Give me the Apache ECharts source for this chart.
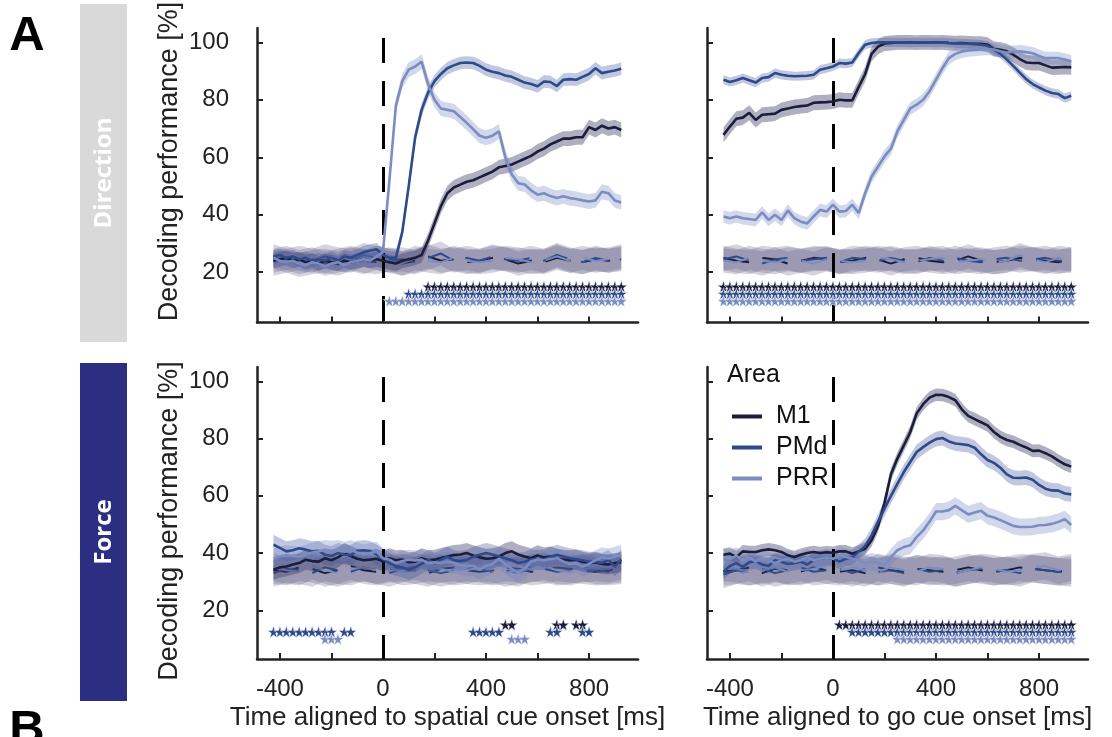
<!DOCTYPE html>
<html><head><meta charset="utf-8">
<script src="https://cdn.jsdelivr.net/npm/echarts@6/dist/echarts.min.js"></script>
<style>html,body{margin:0;padding:0;background:#fff}#c{width:1112px;height:737px}</style>
</head><body><div id="c"></div>
<script>
// ---------- DATA ----------
const t = [-425,-400,-375,-350,-325,-300,-275,-250,-225,-200,-175,-150,-125,-100,-75,-50,-25,0,25,50,75,100,125,150,175,200,225,250,275,300,325,350,375,400,425,450,475,500,525,550,575,600,625,650,675,700,725,750,775,800,825,850,875,900,925];
const tS = [-425,-375,-325,-275,-225,-175,-125,-75,-25,25,75,125,175,225,275,325,375,425,475,525,575,625,675,725,775,825,875,925];
const yTicks = [20,40,60,80,100];
const xTicks = [-400,-200,0,200,400,600,800];
const xLabels = [-400,0,400,800];
const areas = ['M1','PMd','PRR'];
const starRows = [15,12.5,10];

// Direction, aligned to spatial cue
const dirSpatial_M1 = [24,24.5,25,24,24.5,23.5,24,23,24,23.5,23,24,23.5,24,24.5,24,24.5,24,23.5,23,24,24.5,25,26,31,37,43,47.5,49.5,50.5,51.5,52,53,54,55,56.5,57,57.5,58.5,59.5,60.5,62,63,64.5,65.5,66.5,66.5,67,67,70.5,69.5,71,70,70.5,69.5];
const dirSpatial_PMd = [25.5,26,25,25.5,24.5,25,24,24.5,24,25,24,25.5,25,26,27,27.5,28,26,25,25,34,50,67,76.5,82.5,86.5,89,91,92,92.8,93,92.8,91.8,90.5,89.8,89.3,88.5,88,87,86,85.5,84.7,86.4,86.2,84.8,87,87.2,87,88,89,91,89.3,89.8,90.2,90.8];
const dirSpatial_PRR = [25,24,23.5,24,23,22.5,23.5,23,22,23,23.5,22.5,23.5,24,24.5,24,25.5,27,52,78,86.5,90.5,91.6,93.3,85.5,80,77,76.5,76,74,72,69.8,67.5,66.8,67.5,69,60,54,51,50.5,48.5,47,47.5,46.5,45.8,46.4,45.8,45.5,45,44.6,45,48,47.5,45,44.3];
// Direction, aligned to go cue
const dirGo_M1 = [67.8,70.7,73.4,73.8,75.5,73,74.8,75,75.2,76.5,77,77.5,77.8,78,79,79.1,79.2,79.4,80,79.8,79.8,84.5,89,96,98.5,99.6,99.8,100,100,100,99.9,100,100,99.9,100,99.8,99.7,99.8,99.6,99.5,99.5,99.2,97.7,97.4,96.9,95.7,94.2,93,92.8,92.8,92,91.2,91.3,91.4,91.3];
const dirGo_PMd = [87,86.2,86.8,87.6,86.8,86,87.6,87.9,89.3,88.7,88.4,88.2,88.3,88.4,88.7,90.5,91,91.6,92.8,92.6,93,96.3,99.2,99.8,100,100,100,100,100,99.9,100,100,100,99.9,100,99.8,99.7,99.6,99.5,99.4,99.2,98.8,97.5,96,94,91.8,89.5,87.2,85.5,84.3,83.2,82.4,82,80.6,81.4];
const dirGo_PRR = [39.4,38.8,39.4,38.8,38.5,38.2,40.8,38.2,40,38.2,41.5,38.8,37.6,37,39.4,41.7,41.1,43.5,41.1,41.3,43.5,40.6,47.5,53.3,56.8,60.3,63,69,73,77,78.3,80,83,87,91,94.5,96,96.8,97.2,97.4,97.6,97.7,97.5,96.9,96.5,96.7,96.9,96.6,96.2,95.3,94.5,94.5,94.5,94,93.4];
// Force, aligned to spatial cue
const forceSpatial_M1 = [34.2,35,35.3,36,36.5,37.7,37.2,37,38.2,37.5,38.5,40,39,38,37.5,37.7,38,37.1,38.2,37.5,37.7,36.8,37,38.2,37.5,37.7,38.3,38.8,39.3,39.5,40,39.2,38.5,38,38.2,38.8,40,40.6,39.5,38.8,38.2,39.2,38.5,38.8,38,37.7,37.5,37.7,37,36.5,36.8,36.2,36,36.5,36.8];
const forceSpatial_PMd = [42.9,41.8,40.6,41,41.7,41.2,40.6,40.8,39.4,39,40,39.5,39.3,40.8,41,40.7,39.5,38,36.5,35.5,35,34.2,35,36.2,37.7,36.5,37.7,38.8,37.5,37.2,37.6,38.7,39.4,40,39.5,38.8,38.2,37.5,36.5,37,37.8,37.6,37.8,38.7,39.4,38.8,38.2,37.8,37.5,37,37,36.5,37.6,35.3,37.8];
const forceSpatial_PRR = [38.2,38.8,39.3,39,38.6,39.4,40.2,40.6,41.1,40.8,41.1,40.5,41.1,40.2,39.5,40,40.5,38.2,37.7,36.5,37.2,37.7,37.4,37.7,36.5,36.8,36.5,37,36.5,35.8,35.3,35.6,34.2,35.5,36.2,38,36.2,34.5,33,34.6,37.1,37.7,37.5,37.9,38.2,37.1,36.2,36.5,35.3,36.2,37.5,38.5,38.1,38.7,39.4];
// Force, aligned to go cue
const forceGo_M1 = [39.4,39.8,38.6,40.6,40.4,40.4,41,41.3,41,40.4,39.2,38.6,39.4,40,40.4,40,40.3,40.1,40.6,40.6,39.8,40.6,41.5,44.5,49.5,57.5,67.5,73,77.6,82.3,88.8,92,94.3,95.3,95.2,94.5,93.4,90.2,87.9,86.8,85.7,84.6,82.3,80.6,79.5,78.9,77.8,76.9,75.7,75.8,74.9,73.8,72.3,71,70.2];
const forceGo_PMd = [33.5,35.5,36.5,35.2,36.8,37.2,36,35.5,37.5,37,36.2,36.5,37,36,37.5,38,38.5,38,37,38,38.5,40.5,42.5,46.2,51,55.5,60,64.2,68.3,71.8,75.3,77,78.6,79.8,80.2,79,78.3,78,77.7,76.8,74.5,72.5,71.5,69.8,67.5,66.3,66.2,66.4,65.6,63.8,62.5,61.9,61.8,60.8,60.5];
const forceGo_PRR = [38.5,38,39,37.5,38.5,37,38,37.5,36.5,37.5,38,37,37.5,38.5,37.5,38,38.5,38,39.2,38.6,38,37.5,36.5,37,36.5,35.7,38.6,41,42.1,42.7,45.6,47.9,51,54.5,54.5,55,56.5,55,53.5,54.2,54.8,53,52.4,51.5,50.5,49.5,49.1,49.1,49.2,49.7,49.8,50.2,50.9,51.8,49.8];

// shuffled-label (chance) decoding
const shDirSpatial_M1 = [24,25,23.5,24.5,23,24,25,24,23.5,24.5,23,24,25.5,24,24.5,23.5,24,25,24.5,23,24,23.5,25,24,23.5,24.5,24,25];
const shDirSpatial_PMd = [25.5,24,25,24,25.5,24.5,24,26,25,24,24.5,23.5,25,26.5,24,25,24,25.5,24.5,24,25,24,26,24.5,23.5,25,24,24.5];
const shDirSpatial_PRR = [23,24,22.5,23.5,24,23,24.5,23.5,25,24,23,25,24,23.5,25,24,23.5,24,25,24.5,23.5,24,25.5,24,25,24,24.5,25.5];
const shDirGo_M1 = [25,24,23.5,25,24.5,23,24,25,24.5,23.5,24,25,24.5,23,24.5,25,24,23.5,24,25.5,24,23.5,24,25,24.5,24,23.5,24.5];
const shDirGo_PMd = [24.5,25.5,24,23,24.5,25,24,24.5,25,23.5,25,24.5,24,25,24,23.5,25,24,25,24,23.5,24.5,25,24,24.5,25,24,24];
const shDirGo_PRR = [24,23.5,25,24,23.5,24.5,24,23,24.5,24,23.5,24,25,24.5,23.5,24,24.5,25,23.5,24,24.5,23.5,24,26,24.5,23.5,25,24.5];
const shForceSpatial_M1 = [34,33.5,35,34.5,33,34,35.5,34,33.5,34.5,35,34,33,34.5,35,34,33.5,34,35,34.5,33.5,34,35,34.5,34,33.5,34,34.5];
const shForceSpatial_PMd = [33,34.5,34,33,35,34,33.5,35,34,33,34.5,35.5,34,33,34,35,34.5,33.5,34,33,35,34.5,33.5,34,35,34,33.5,34];
const shForceSpatial_PRR = [35,34,33.5,35.5,34,33,34.5,35,34,35,33.5,34,35,34.5,33.5,34,35,34.5,33,34,34.5,35.5,34,33.5,34.5,35,34.5,35.5];
const shForceGo_M1 = [33.5,34,35,33,34.5,34,33.5,35,34,33.5,34,33,35,34,33.5,34.5,34,33.5,34,35,34,33.5,34,35,34.5,34,33.5,34];
const shForceGo_PMd = [32.5,34,33.5,34.5,33,34,35,33.5,34,34.5,33,34.5,33.5,34,33,34.5,33.5,34,33,34,34.5,33.5,34,33,34.5,34,33.5,33];
const shForceGo_PRR = [35,34.5,33.5,34,35,33.5,34,34.5,35.5,34,35,34,33.5,35,34,33.5,35,34.5,33,34,35,34.5,33.5,34,35,35.5,34,35];

// band half-widths (s.e.m.), per panel: [M1, PMd, PRR]
const semDirSpatial = [2.6,2.2,2.6];
const semDirGo = [2.6,1.6,2.2];
const semForceSpatial = [3.5,3.5,3.5];
const semForceGo = [2.2,2.6,3.0];
const semShDir = [4.2,4.2,4.2];
const semShForce = [4.8,4.8,4.8];

// significant time bins (intervals, ms)
const sigDirSpatial_M1 = [[175,925]], sigDirSpatial_PMd = [[100,925]], sigDirSpatial_PRR = [[25,925]];
const sigDirGo_M1 = [[-425,925]], sigDirGo_PMd = [[-425,925]], sigDirGo_PRR = [[-425,925]];
const sigForceSpatial_M1 = [[475,500],[675,700],[750,775]];
const sigForceSpatial_PMd = [[-425,-200],[-150,-125],[350,450],[650,675],[775,800]];
const sigForceSpatial_PRR = [[-225,-175],[500,550]];
const sigForceGo_M1 = [[25,925]], sigForceGo_PMd = [[75,925]], sigForceGo_PRR = [[250,925]];

// ---------- STYLE ----------
const FONT = 'Liberation Sans, Arial, sans-serif';
const COL = {M1:'#1c1d3b', PMd:'#2d4a8a', PRR:'#7b8dc0'};
const BAND = {M1:'rgba(64,64,108,0.42)', PMd:'rgba(64,86,155,0.33)', PRR:'rgba(105,125,192,0.30)'};
const SHBAND = 'rgba(88,86,128,0.26)';
const STAR = 'path://M50,0 L61,35 L98,35 L68,57 L79,91 L50,70 L21,91 L32,57 L2,35 L39,35 Z';

const panels = [
  {mean:[dirSpatial_M1,dirSpatial_PMd,dirSpatial_PRR], sem:semDirSpatial, sh:[shDirSpatial_M1,shDirSpatial_PMd,shDirSpatial_PRR], shSem:semShDir, sig:[sigDirSpatial_M1,sigDirSpatial_PMd,sigDirSpatial_PRR], ymin:2.5},
  {mean:[dirGo_M1,dirGo_PMd,dirGo_PRR], sem:semDirGo, sh:[shDirGo_M1,shDirGo_PMd,shDirGo_PRR], shSem:semShDir, sig:[sigDirGo_M1,sigDirGo_PMd,sigDirGo_PRR], ymin:2.5},
  {mean:[forceSpatial_M1,forceSpatial_PMd,forceSpatial_PRR], sem:semForceSpatial, sh:[shForceSpatial_M1,shForceSpatial_PMd,shForceSpatial_PRR], shSem:semShForce, sig:[sigForceSpatial_M1,sigForceSpatial_PMd,sigForceSpatial_PRR], ymin:3},
  {mean:[forceGo_M1,forceGo_PMd,forceGo_PRR], sem:semForceGo, sh:[shForceGo_M1,shForceGo_PMd,shForceGo_PRR], shSem:semShForce, sig:[sigForceGo_M1,sigForceGo_PMd,sigForceGo_PRR], ymin:3}
];
const grids = [
  {left:257, top:28, width:381, height:294.5},
  {left:707, top:28, width:381, height:294.5},
  {left:257, top:367, width:381, height:292},
  {left:707, top:367, width:381, height:292}
];

function bandSeries(gi, times, mean, hw, fill, z){
  const d = times.map((x,i)=>[x, mean[i]-hw, mean[i]+hw]);
  return {type:'custom', xAxisIndex:gi, yAxisIndex:gi, z:z, silent:true, data:d, encode:{x:0,y:[1,2]},
    renderItem:function(params, api){
      if (params.dataIndex !== 0) return null;
      const up = [], lo = [];
      for (let i=0;i<d.length;i++){ up.push(api.coord([d[i][0], d[i][2]])); lo.unshift(api.coord([d[i][0], d[i][1]])); }
      return {type:'polygon', shape:{points:up.concat(lo)}, style:{fill:fill}};
    }};
}
function inSig(x, ivs){ return ivs.some(iv => x >= iv[0] && x <= iv[1]); }

const series = [];
panels.forEach((p, gi) => {
  areas.forEach((a, k) => {
    series.push(bandSeries(gi, tS, p.sh[k], p.shSem[k], SHBAND, 1));
  });
  areas.forEach((a, k) => {
    series.push({type:'line', name:a+' shuffled', xAxisIndex:gi, yAxisIndex:gi, z:2, silent:true, symbol:'none',
      data: tS.map((x,i)=>[x, p.sh[k][i]]), lineStyle:{color:COL[a], width:2, type:[26,14]}, itemStyle:{color:COL[a]}});
  });
  areas.forEach((a, k) => {
    series.push(bandSeries(gi, t, p.mean[k], p.sem[k], BAND[a], 3));
  });
  areas.forEach((a, k) => {
    series.push({type:'line', name:a, xAxisIndex:gi, yAxisIndex:gi, z:5, silent:true, symbol:'none', color:COL[a],
      data: t.map((x,i)=>[x, p.mean[k][i]]), lineStyle:{color:COL[a], width:2.6}, itemStyle:{color:COL[a]}});
  });
  areas.forEach((a, k) => {
    series.push({type:'scatter', name:a+' sig', xAxisIndex:gi, yAxisIndex:gi, z:6, silent:true, symbol:STAR, symbolSize:12,
      data: t.filter(x => inSig(x, p.sig[k])).map(x => [x, starRows[k]]),
      itemStyle:{color:COL[a], borderColor:'rgba(255,255,255,0.75)', borderWidth:0.7, opacity:1}});
  });
  series.push({type:'line', name:'onset', xAxisIndex:gi, yAxisIndex:gi, z:7, silent:true, data:[], symbol:'none',
    markLine:{silent:true, symbol:['none','none'], animation:false, label:{show:false},
      lineStyle:{color:'#000', width:3, type:[25,18]},
      data:[[{coord:[0,101.5]},{coord:[0,p.ymin]}]]}});
});

const axColor = '#222';
const xAxes = grids.map((g, gi) => ({
  type:'value', gridIndex:gi, min:-489, max:990,
  axisLine:{show:true, onZero:false, lineStyle:{color:axColor, width:2.5}},
  axisTick:{show:true, inside:true, length:6, lineStyle:{color:axColor, width:2}, customValues:xTicks},
  axisLabel:{show: gi>=2, customValues:xLabels, margin:18, fontSize:24, color:axColor, fontFamily:FONT},
  splitLine:{show:false},
  name: gi===2 ? 'Time aligned to spatial cue onset [ms]' : (gi===3 ? 'Time aligned to go cue onset [ms]' : ''),
  nameLocation:'middle', nameGap:46, nameTextStyle:{fontSize:26, color:axColor, fontFamily:FONT}
}));
const yAxes = grids.map((g, gi) => ({
  type:'value', gridIndex:gi, min:panels[gi].ymin, max:105,
  axisLine:{show:true, onZero:false, lineStyle:{color:axColor, width:2.5}},
  axisTick:{show:true, inside:true, length:6, lineStyle:{color:axColor, width:2}, customValues:yTicks},
  axisLabel:{show: gi%2===0, customValues:yTicks, margin:28, fontSize:24, color:axColor, fontFamily:FONT},
  splitLine:{show:false}
}));

const yName = 'Decoding performance [%]';
const chart = echarts.init(document.getElementById('c'), null, {renderer:'canvas'});
chart.setOption({
  animation:false,
  backgroundColor:'#fff',
  grid: grids,
  xAxis: xAxes,
  yAxis: yAxes,
  legend:{data:areas, orient:'vertical', left:727, top:399, icon:'rect', itemWidth:30, itemHeight:4, itemGap:6,
    selectedMode:false, textStyle:{fontSize:25, color:'#111', fontFamily:FONT, padding:[0,0,0,9]}},
  graphic:[
    {type:'rect', left:80, top:4, shape:{width:47, height:338}, style:{fill:'#d9d9d9'}, silent:true},
    {type:'rect', left:80, top:363, shape:{width:47, height:338}, style:{fill:'#2c2e82'}, silent:true},
    {type:'text', x:104, y:173, rotation:Math.PI/2, silent:true,
      style:{text:'Direction', fill:'#fff', font:'bold 24px "Open Sans", sans-serif', align:'center', verticalAlign:'middle'}},
    {type:'text', x:104, y:532, rotation:Math.PI/2, silent:true,
      style:{text:'Force', fill:'#fff', font:'bold 24px "Open Sans", sans-serif', align:'center', verticalAlign:'middle'}},
    {type:'text', x:170, y:161.5, rotation:Math.PI/2, silent:true,
      style:{text:yName, fill:axColor, font:'27px "Liberation Sans", Arial, sans-serif', align:'center', verticalAlign:'middle'}},
    {type:'text', x:170, y:521, rotation:Math.PI/2, silent:true,
      style:{text:yName, fill:axColor, font:'27px "Liberation Sans", Arial, sans-serif', align:'center', verticalAlign:'middle'}},
    {type:'text', x:27, y:36, silent:true, style:{text:'A', fill:'#000', font:'bold 49px "Liberation Sans", Arial, sans-serif', align:'center', verticalAlign:'middle'}},
    {type:'text', x:27, y:730, silent:true, style:{text:'B', fill:'#000', font:'bold 49px "Liberation Sans", Arial, sans-serif', align:'center', verticalAlign:'middle'}},
    {type:'text', x:727, y:375, silent:true, style:{text:'Area', fill:'#111', font:'25px "Liberation Sans", Arial, sans-serif', align:'left', verticalAlign:'middle'}}
  ],
  series: series
});
</script></body></html>
